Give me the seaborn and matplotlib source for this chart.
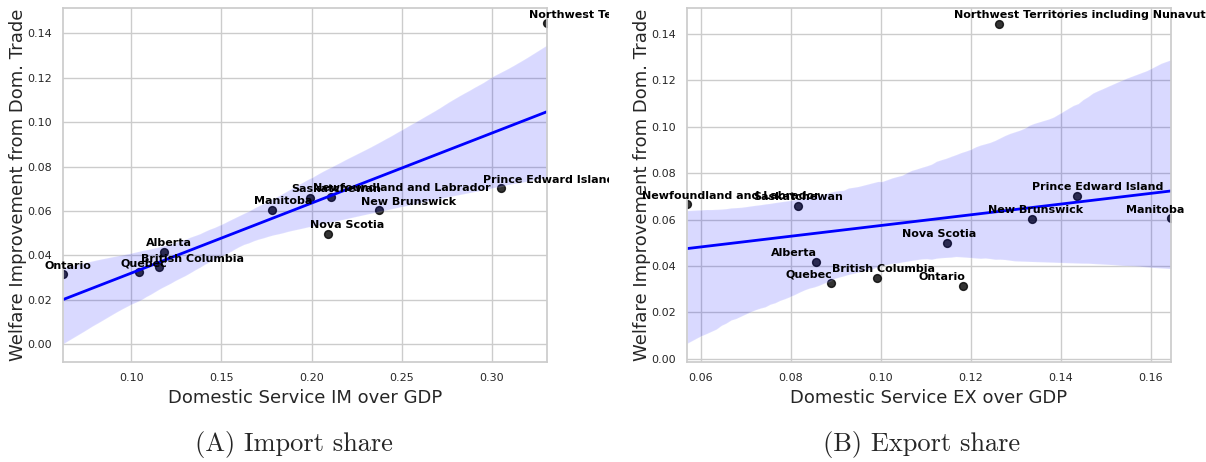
import matplotlib
matplotlib.use('Agg')
import matplotlib.pyplot as plt
from matplotlib.transforms import Bbox, TransformedBbox
import pandas
import seaborn

# Values
provinces = ['Ontario', 'Quebec', 'British Columbia', 'Alberta', 'Manitoba', 'Saskatchewan',
             'Newfoundland and Labrador', 'Nova Scotia', 'New Brunswick', 'Prince Edward Island',
             'Northwest Territories including Nunavut']
welfare = [0.0314, 0.0325, 0.0347, 0.0416, 0.0605, 0.0659, 0.0665, 0.0498, 0.0603, 0.0702, 0.1445]
im_share = [0.0622, 0.1043, 0.1153, 0.1184, 0.1780, 0.1989, 0.2108, 0.2089, 0.2376, 0.3050, 0.3305]
ex_share = [0.1183, 0.0888, 0.0992, 0.0855, 0.1645, 0.0816, 0.0569, 0.1146, 0.1337, 0.1437, 0.1263]

df = pandas.DataFrame({'Province': provinces, 'Welfare': welfare, 'IM': im_share, 'EX': ex_share})

seaborn.set_theme(style = 'whitegrid')

fig = plt.figure(figsize = (12.06, 4.62), dpi = 100)
ax_a = fig.add_axes([0.0522, 0.2165, 0.4013, 0.7662])
ax_b = fig.add_axes([0.5697, 0.2165, 0.4013, 0.7662])

# left picture was cropped at about x = 609 px
clip_a = TransformedBbox(Bbox.from_extents(0, 0, 609 / 1206, 1), fig.transFigure)

panels = [(ax_a, 'IM', 'Domestic Service IM over GDP', clip_a, (-0.008, 0.1514)),
          (ax_b, 'EX', 'Domestic Service EX over GDP', None, (-0.0014, 0.1512))]

for ax, col, xlab, clip, ylim in panels:
    seaborn.regplot(data = df, x = col, y = 'Welfare', ax = ax, color = 'blue', seed = 3,
                    scatter_kws = {'color': 'black', 'alpha': 0.8, 's': 32},
                    line_kws = {'color': 'blue', 'lw': 2})
    ax.margins(x = 0)
    ax.set_ylim(ylim)
    for name, xv, yv in zip(df['Province'], df[col], df['Welfare']):
        t = ax.text(xv - 0.01, yv + 0.0025, name, fontsize = 8, fontweight = 'bold', color = 'black')
        if clip is not None:
            t.set_clip_box(clip)
            t.set_clip_on(True)
    ax.set_xlabel(xlab, fontsize = 13)
    ax.set_ylabel('Welfare Improvement from Dom. Trade', fontsize = 13, labelpad = 0)
    ax.tick_params(labelsize = 8, pad = 2)

fig.text(294 / 1206, 1 - 445 / 462, '(A) Import share', ha = 'center', va = 'center',
         fontfamily = 'cmr10', fontsize = 19)
fig.text(922 / 1206, 1 - 445 / 462, '(B) Export share', ha = 'center', va = 'center',
         fontfamily = 'cmr10', fontsize = 19)

fig.savefig('out.png', dpi = 100)
